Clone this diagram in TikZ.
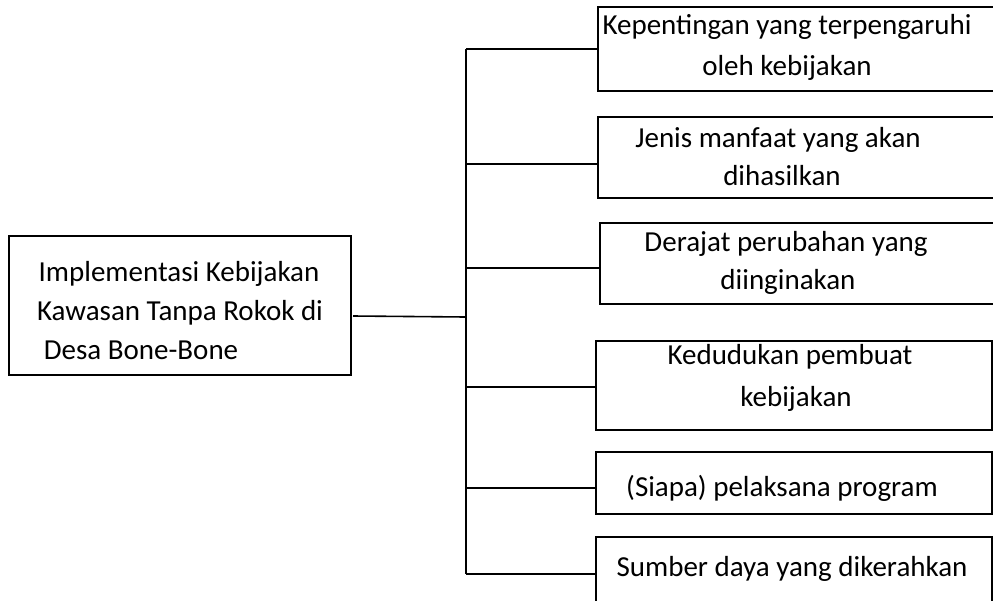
\documentclass[tikz,border=0pt]{standalone}
\usepackage{fontspec}
\setmainfont{Carlito}
\begin{document}
\begin{tikzpicture}[x=1pt,y=-1pt,
  boxst/.style={draw=black,line width=1.6pt,rectangle,inner sep=0pt},
  txt/.style={anchor=base,inner sep=0pt,font=\fontsize{29}{40}\selectfont},
  conn/.style={draw=black,line width=1.6pt}]
\useasboundingbox (0,0) rectangle (993,600);
\clip (0,0) rectangle (993,600);
\fill[white] (0,0) rectangle (993,600);
% left box
\node[boxst,minimum width=342pt,minimum height=139pt] (m) at (180,305.5) {};
\node[txt] (m1) at (179,281) {Implementasi Kebijakan};
\node[txt] (m2) at (180,320) {Kawasan Tanpa Rokok di};
\node[txt] (m3) at (141,359) {Desa Bone-Bone};
% right boxes
\node[boxst,minimum width=420pt,minimum height=84pt] (b1) at (808,49) {};
\node[boxst,minimum width=420pt,minimum height=81pt] (b2) at (808,157.5) {};
\node[boxst,minimum width=418pt,minimum height=81pt] (b3) at (809,263.5) {};
\node[boxst,minimum width=396pt,minimum height=89pt] (b4) at (794,385.5) {};
\node[boxst,minimum width=396pt,minimum height=62pt] (b5) at (794,483) {};
\node[boxst,minimum width=396pt,minimum height=100pt] (b6) at (794,587) {};
\node[txt] (t1a) at (787,34) {Kepentingan yang terpengaruhi};
\node[txt] (t1b) at (787,75) {oleh kebijakan};
\node[txt] (t2a) at (778,147) {Jenis manfaat yang akan};
\node[txt] (t2b) at (782,185) {dihasilkan};
\node[txt] (t3a) at (786,251) {Derajat perubahan yang};
\node[txt] (t3b) at (788,289) {diinginakan};
\node[txt] (t4a) at (790,364) {Kedudukan pembuat};
\node[txt] (t4b) at (796,406) {kebijakan};
\node[txt] (t5) at (782,496) {(Siapa) pelaksana program};
\node[txt] (t6) at (792,576) {Sumber daya yang dikerahkan};
% connector points
\coordinate (v1) at (466,49);
\coordinate (v2) at (466,164);
\coordinate (v3) at (466,268);
\coordinate (v4) at (466,387);
\coordinate (v5) at (466,488);
\coordinate (v6) at (466,574);
\coordinate (vm) at (466,317);
\coordinate (ms) at (353,316);
\draw[conn] (v1) -- (v6);
\draw[conn] (ms) -- (vm);
\draw[conn] (v1) -- (v1 -| b1.west);
\draw[conn] (v2) -- (v2 -| b2.west);
\draw[conn] (v3) -- (v3 -| b3.west);
\draw[conn] (v4) -- (v4 -| b4.west);
\draw[conn] (v5) -- (v5 -| b5.west);
\draw[conn] (v6) -- (v6 -| b6.west);
\end{tikzpicture}
\end{document}
